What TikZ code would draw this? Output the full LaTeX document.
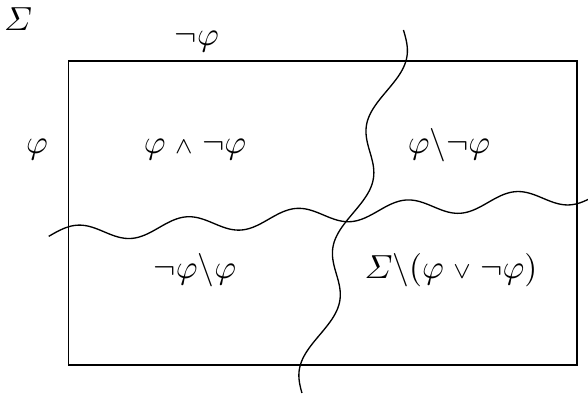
\documentclass[tikz,border=0pt]{standalone}
\usepackage{amsmath,amssymb}
\begin{document}
\begin{tikzpicture}[x=0.3pt,y=-0.3pt,
  lbl/.style={inner sep=0pt, anchor=base, font=\fontsize{10}{12}\selectfont},
  curve/.style={line width=0.4pt, smooth}]
\useasboundingbox (0,0) rectangle (588,394);
\draw[line width=0.4pt] (68.5,61) rectangle (577,365);
% horizontal wavy line
\draw[curve, domain=48.7:588, samples=220]
  plot (\x, {231.9 - 0.0765*(\x-103) - 8.7*cos(3.2817*(\x-76.7))});
% vertical wavy line
\draw[curve, domain=30:393, samples=220]
  plot ({411.7 - 0.275*\x + 11*cos(2.951*(\x-60.5))}, \x);
% labels
\node[lbl] (sigma) at (18,30) {$\varSigma$};
\node[lbl] (nphi) at (197,45) {$\neg\varphi$};
\node[lbl] (phi) at (37,153) {$\varphi$};
\node[lbl] (a) at (195,153) {$\varphi \mathrel{\scriptstyle\wedge} \neg\varphi$};
\node[lbl] (b) at (449,153) {$\varphi\backslash\neg\varphi$};
\node[lbl] (c) at (195,278) {$\neg\varphi\backslash\varphi$};
\node[lbl] (d) at (451,278) {$\varSigma\backslash(\varphi \mathrel{\scriptstyle\vee} \neg\varphi)$};
\end{tikzpicture}
\end{document}
